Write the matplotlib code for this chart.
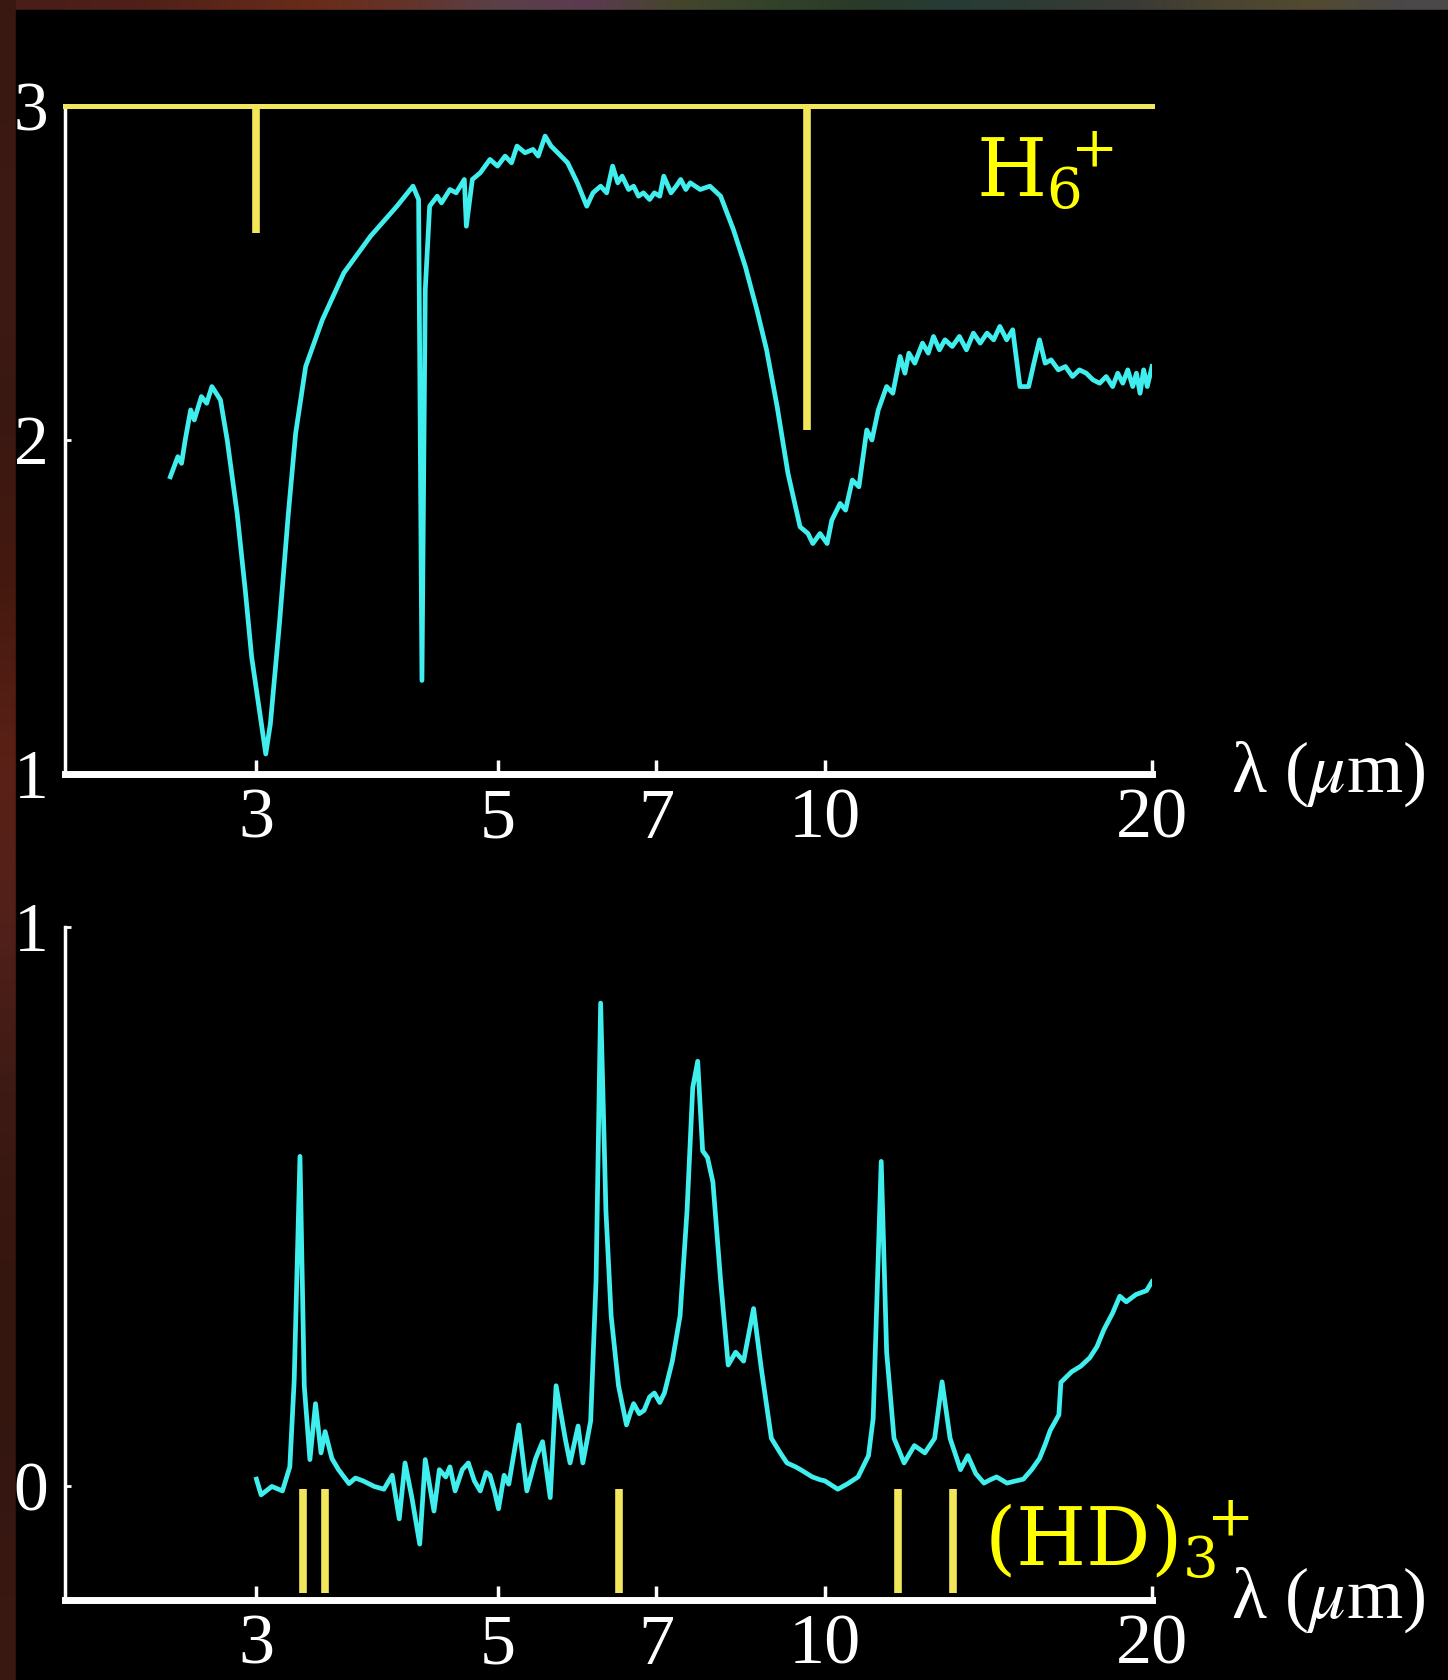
import numpy as np
import matplotlib
matplotlib.use("Agg")
import matplotlib.pyplot as plt
from matplotlib.patches import Rectangle

plt.rcParams['font.family'] = ['Liberation Serif', 'DejaVu Serif']

# ---------------------------
# Data
# ---------------------------
# upper panel: absorption-like spectrum
top_wl = [2.50, 2.54, 2.56, 2.58, 2.61, 2.63, 2.67, 2.70, 2.73, 2.78, 2.82, 2.88, 2.93, 2.97,
          3.01, 3.06, 3.09, 3.15, 3.21, 3.26, 3.33, 3.45, 3.61, 3.82, 4.04, 4.18,
          4.23, 4.26, 4.29, 4.33, 4.40, 4.44, 4.52, 4.58, 4.66, 4.68, 4.74, 4.82, 4.92,
          5.00, 5.08, 5.15, 5.21, 5.30, 5.39, 5.45, 5.53, 5.60, 5.68, 5.80, 5.92, 6.04,
          6.12, 6.22, 6.30, 6.38, 6.45, 6.51, 6.60, 6.67, 6.74, 6.81, 6.90, 6.97, 7.05,
          7.11, 7.22, 7.30, 7.37, 7.45, 7.52, 7.60, 7.68, 7.84, 8.02, 8.24, 8.45, 8.66,
          8.84, 9.04, 9.25, 9.49, 9.65, 9.75, 9.90, 10.05, 10.15, 10.33, 10.45, 10.60,
          10.75, 10.93, 11.05, 11.20, 11.40, 11.55, 11.73, 11.85, 11.95, 12.10, 12.30,
          12.45, 12.59, 12.75, 12.90, 13.10, 13.30, 13.50, 13.70, 13.90, 14.10, 14.30,
          14.49, 14.70, 14.89, 15.12, 15.40, 15.60, 15.76, 15.95, 16.15, 16.40, 16.65,
          16.90, 17.15, 17.40, 17.65, 17.90, 18.15, 18.40, 18.60, 18.80, 19.00, 19.20,
          19.35, 19.50, 19.65, 19.80, 20.00]
top_flux = [1.89, 1.95, 1.93, 2.00, 2.09, 2.06, 2.13, 2.11, 2.16, 2.12, 2.00, 1.78, 1.55, 1.35,
            1.22, 1.06, 1.15, 1.45, 1.78, 2.02, 2.22, 2.36, 2.50, 2.61, 2.70, 2.76,
            2.72, 1.28, 2.45, 2.70, 2.73, 2.71, 2.75, 2.74, 2.78, 2.64, 2.78, 2.80, 2.84,
            2.82, 2.85, 2.83, 2.88, 2.86, 2.87, 2.85, 2.91, 2.88, 2.86, 2.83, 2.77, 2.70,
            2.74, 2.76, 2.74, 2.82, 2.77, 2.79, 2.75, 2.76, 2.73, 2.74, 2.72, 2.74, 2.73,
            2.79, 2.74, 2.76, 2.78, 2.75, 2.77, 2.76, 2.75, 2.76, 2.73, 2.63, 2.52, 2.39,
            2.27, 2.10, 1.90, 1.74, 1.72, 1.69, 1.72, 1.69, 1.76, 1.81, 1.79, 1.88,
            1.86, 2.03, 2.00, 2.09, 2.16, 2.14, 2.25, 2.20, 2.26, 2.23, 2.29,
            2.26, 2.31, 2.27, 2.30, 2.28, 2.31, 2.27, 2.32, 2.29, 2.32, 2.30,
            2.34, 2.30, 2.33, 2.16, 2.16, 2.24, 2.30, 2.23, 2.24, 2.21, 2.22,
            2.19, 2.21, 2.20, 2.18, 2.17, 2.19, 2.16, 2.20, 2.17, 2.21, 2.16,
            2.20, 2.14, 2.21, 2.16, 2.22]

# H6+ stick lines hanging from the top
h6_lines = [3.0, 9.63]
h6_ends = [2.62, 2.03]

# lower panel: emission-like spectrum
bot_wl = [3.00, 3.03, 3.10, 3.17, 3.22, 3.25, 3.29, 3.32, 3.36, 3.40, 3.44, 3.47, 3.52,
          3.57, 3.65, 3.70, 3.76, 3.85, 3.93, 4.00, 4.06, 4.11, 4.17, 4.24, 4.29, 4.37,
          4.42, 4.48, 4.52, 4.57, 4.64, 4.70, 4.76, 4.82, 4.88, 4.92, 4.97, 5.01, 5.07,
          5.12, 5.23, 5.32, 5.42, 5.50, 5.59, 5.66, 5.77, 5.83, 5.93, 5.99, 6.09, 6.16,
          6.22, 6.29, 6.36, 6.46, 6.57, 6.62, 6.67, 6.75, 6.82, 6.90, 6.97, 7.05, 7.12,
          7.24, 7.36, 7.47, 7.56, 7.64, 7.72, 7.80, 7.89, 8.02, 8.15, 8.28, 8.42, 8.60,
          8.74, 8.93, 9.10, 9.23, 9.40, 9.50, 9.74, 9.90, 10.00, 10.28, 10.50, 10.73,
          10.97, 11.08, 11.27, 11.40, 11.58, 11.83, 12.09, 12.36, 12.62, 12.82, 13.04,
          13.33, 13.54, 13.77, 14.01, 14.20, 14.39, 14.71, 15.00, 15.23, 15.50, 15.76,
          15.95, 16.12, 16.42, 16.49, 16.87, 17.20, 17.53, 17.80, 18.06, 18.40, 18.68,
          18.94, 19.33, 19.77, 20.00]
bot_flux = [0.013, -0.015, 0.000, -0.008, 0.035, 0.19, 0.59, 0.18, 0.048, 0.148, 0.06, 0.098, 0.05,
            0.03, 0.005, 0.015, 0.01, 0.000, -0.005, 0.02, -0.058, 0.042, -0.02, -0.103, 0.048,
            -0.044, 0.03, 0.017, 0.035, -0.008, 0.03, 0.042, 0.01, -0.008, 0.025, 0.02, -0.01,
            -0.04, 0.02, 0.004, 0.11, -0.008, 0.05, 0.08, -0.02, 0.18, 0.086, 0.042, 0.108,
            0.042, 0.117, 0.368, 0.864, 0.493, 0.305, 0.18, 0.11, 0.13, 0.148, 0.13, 0.136,
            0.16, 0.167, 0.15, 0.167, 0.224, 0.305, 0.494, 0.713, 0.76, 0.60, 0.588, 0.544,
            0.368, 0.217, 0.24, 0.224, 0.318, 0.212, 0.086, 0.06, 0.042, 0.035, 0.03, 0.017,
            0.012, 0.01, -0.005, 0.005, 0.017, 0.055, 0.122, 0.581, 0.24, 0.086, 0.042, 0.073,
            0.06, 0.086, 0.187, 0.086, 0.03, 0.055, 0.023, 0.006, 0.012, 0.017, 0.006, 0.01,
            0.013, 0.03, 0.05, 0.075, 0.10, 0.128, 0.186, 0.205, 0.215, 0.23, 0.25, 0.28,
            0.31, 0.34, 0.33, 0.343, 0.35, 0.366]

# (HD)3+ stick lines
hd3_lines = [3.31, 3.47, 6.46, 11.68, 13.11]

xticks = [3, 5, 7, 10, 20]
xticklabels = ['3', '5', '7', '10', '20']

# decoration: nebula border colours
strip_top = ['#4a1e18', '#4e2018', '#5c2619', '#6a2c1a', '#63342a', '#5a4048', '#5c3a50',
             '#44462c', '#33432a', '#2a3a28', '#263c36', '#2f3a34', '#3a3a36', '#4a4430',
             '#524a30', '#4a4848']
strip_left = ['#3a1812', '#3e1a14', '#3a1812', '#45190f', '#5a2016', '#52201a', '#3e1a14',
              '#36160f', '#341610', '#3a1812']

CYAN = '#40eeee'
STICK = '#f2e65a'
LABEL = '#ffff00'

W, H = 1448, 1680
fig = plt.figure(figsize=(W / 100, H / 100), dpi=100, facecolor='black')

# ---------------------------
# background border
# ---------------------------
bg = fig.add_axes([0, 0, 1, 1], zorder=-10)
bg.axis('off')
top_rgb = np.array([[matplotlib.colors.to_rgb(c) for c in strip_top]])
left_rgb = np.array([[matplotlib.colors.to_rgb(c)] for c in strip_left])
bg.imshow(top_rgb, extent=[0, 1, 1 - 10 / H, 1], aspect='auto', interpolation='bilinear')
bg.imshow(left_rgb, extent=[0, 16 / W, 0, 1], aspect='auto', interpolation='bilinear')
bg.add_patch(Rectangle((16 / W, 0), 1, 1 - 10 / H, color='black'))
bg.set_xlim(0, 1)
bg.set_ylim(0, 1)

ax1 = fig.add_axes([65 / W, 1 - 774 / H, 1087 / W, 668 / H])
ax2 = fig.add_axes([65 / W, 1 - 1600 / H, 1087 / W, 673 / H])


def style(ax, yticks):
    ax.set_facecolor('none')
    ax.set_xscale('log')
    ax.set_xlim(2, 20)
    ax.set_xticks(xticks)
    ax.set_xticklabels(xticklabels)
    ax.xaxis.set_minor_locator(matplotlib.ticker.NullLocator())
    ax.set_yticks(yticks)
    ax.set_yticklabels([str(t) for t in yticks])
    for s in ['top', 'right']:
        ax.spines[s].set_visible(False)
    ax.spines['bottom'].set_color('white')
    ax.spines['bottom'].set_linewidth(5)
    ax.spines['left'].set_color('white')
    ax.spines['left'].set_linewidth(2.5)
    ax.tick_params(axis='x', direction='in', length=10, width=2.5, colors='white',
                   labelsize=52, pad=10)
    ax.tick_params(axis='y', direction='in', length=4, width=2, colors='white',
                   labelsize=50, pad=12)
    ax.text(1.073, 0, 'λ (' + r'$\mu$' + 'm)', transform=ax.transAxes, color='white',
            fontsize=52, va='center', ha='left', math_fontfamily='stix')


# ---------------------------
# top panel
# ---------------------------
style(ax1, [1, 2, 3])
ax1.set_ylim(1, 3)
ax1.axhline(3, color=STICK, lw=3.6, clip_on=False, zorder=3)
ax1.vlines(h6_lines, h6_ends, 3, color=STICK, lw=5.5, capstyle='butt', zorder=3)
ax1.plot(top_wl, top_flux, color=CYAN, lw=3.4, zorder=4)
ax1.text(0.838, 0.865, r'$\mathrm{H}_6\!\!{}^+$', transform=ax1.transAxes, color=LABEL,
         fontsize=58, va='baseline', ha='left', math_fontfamily='dejavuserif')

# ---------------------------
# bottom panel
# ---------------------------
style(ax2, [0, 1])
ax2.set_ylim(-0.203, 1)
ax2.vlines(hd3_lines, -0.19, -0.005, color=STICK, lw=5.5, capstyle='butt', zorder=3)
ax2.plot(bot_wl, bot_flux, color=CYAN, lw=3.4, zorder=4)
ax2.text(0.845, 0.052, r'$\mathrm{(HD)}_3\!\!{}^+$', transform=ax2.transAxes, color=LABEL,
         fontsize=58, va='baseline', ha='left', math_fontfamily='dejavuserif')

fig.savefig('out.png', dpi=100, facecolor=fig.get_facecolor())
